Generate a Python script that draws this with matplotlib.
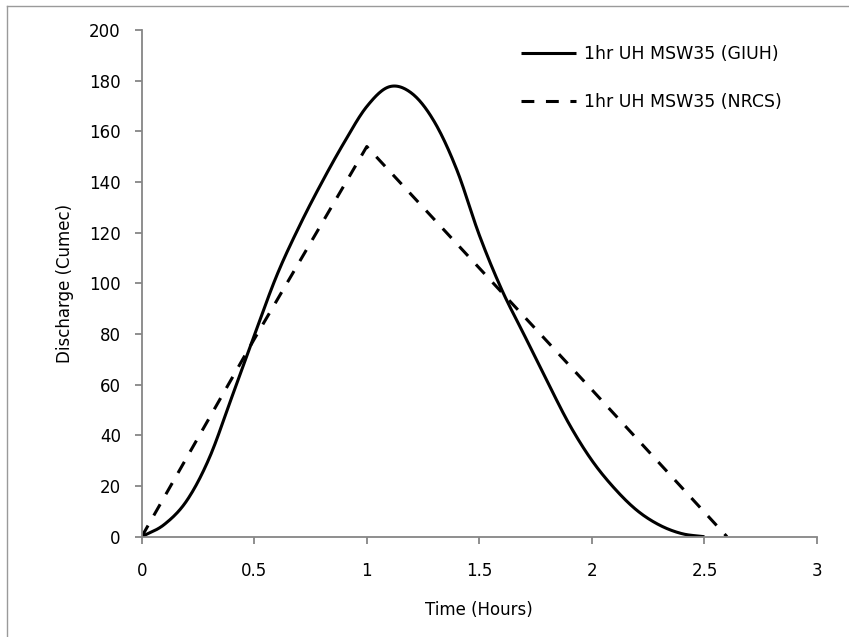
import matplotlib
matplotlib.use("Agg")
import matplotlib.pyplot as plt
from matplotlib.lines import Line2D
import numpy as np

# GIUH unit hydrograph
giuh_t = [0, 0.1, 0.2, 0.3, 0.4, 0.5, 0.6, 0.7, 0.8, 0.9, 1.0, 1.1, 1.2, 1.3,
          1.4, 1.5, 1.6, 1.7, 1.8, 1.9, 2.0, 2.1, 2.2, 2.3, 2.4, 2.5]
giuh_q = [0, 4.8, 14.2, 31.0, 55.0, 79.4, 103.1, 122.5, 139.8, 155.7, 169.8, 177.6,
          175.0, 163.8, 144.8, 119.0, 97.4, 79.5, 61.6, 44.3, 30.1, 19.1, 10.4, 4.6, 1.2, 0]

# NRCS triangular unit hydrograph
nrcs_t = [0, 0.5, 1.0, 1.5, 2.0, 2.6]
nrcs_q = [0, 78, 154, 106, 58, 0]

labels = ["1hr UH MSW35 (GIUH)", "1hr UH MSW35 (NRCS)"]
x_ticks = [0, 0.5, 1, 1.5, 2, 2.5, 3]
y_ticks = [0, 20, 40, 60, 80, 100, 120, 140, 160, 180, 200]


def smooth_line(x, y, n=25):
    """Cubic Hermite curve through the data points (smoothed line)."""
    x = np.asarray(x, float)
    y = np.asarray(y, float)
    m = np.empty_like(y)
    m[1:-1] = (y[2:] - y[:-2]) / (x[2:] - x[:-2])
    m[0] = (y[1] - y[0]) / (x[1] - x[0])
    m[-1] = (y[-1] - y[-2]) / (x[-1] - x[-2])
    xs, ys = [x[0]], [y[0]]
    for i in range(len(x) - 1):
        h = x[i + 1] - x[i]
        s = np.linspace(0, 1, n)[1:]
        h00 = 2 * s**3 - 3 * s**2 + 1
        h10 = s**3 - 2 * s**2 + s
        h01 = -2 * s**3 + 3 * s**2
        h11 = s**3 - s**2
        xs.extend(x[i] + s * h)
        ys.extend(h00 * y[i] + h10 * h * m[i] + h01 * y[i + 1] + h11 * h * m[i + 1])
    return np.array(xs), np.array(ys)


plt.rcParams['font.family'] = ['DejaVu Sans']

fig = plt.figure(figsize=(8.49, 6.37), dpi=100)
W, H = 849, 637
ax = fig.add_axes([141.7 / W, 1 - 536.7 / H, (817 - 141.7) / W, (536.7 - 30) / H])

gx, gy = smooth_line(giuh_t, giuh_q)
ax.plot(gx, gy, color='black', lw=2.2, solid_capstyle='butt', label=labels[0])
ax.plot(nrcs_t, nrcs_q, color='black', lw=2.2, dashes=(4.2, 3.8), dash_capstyle='butt',
        label=labels[1])

ax.set_xlim(0, 3)
ax.set_ylim(0, 200)
ax.set_xticks(x_ticks)
ax.set_xticklabels([str(v) for v in x_ticks])
ax.set_yticks(y_ticks)

gray = '#868686'
for s in ['top', 'right']:
    ax.spines[s].set_visible(False)
for s in ['left', 'bottom']:
    ax.spines[s].set_color(gray)
    ax.spines[s].set_linewidth(1.3)
ax.tick_params(axis='both', direction='out', length=5, width=1.3, color=gray,
               labelsize=12, labelcolor='black')
ax.tick_params(axis='x', pad=13)
ax.tick_params(axis='y', pad=10)

ax.set_xlabel("Time (Hours)", fontsize=12, labelpad=15)
ax.set_ylabel("Discharge (Cumec)", fontsize=12, labelpad=11)

leg = ax.legend(loc='upper left',
                bbox_to_anchor=((520.7 - 141.7) / (817 - 141.7), 1 - (45 - 30) / (536.7 - 30)),
                frameon=False, fontsize=12.5, handlelength=3.2, handletextpad=0.42,
                labelspacing=1.75, borderpad=0, borderaxespad=0)

# outer chart border (left and top visible)
fig.add_artist(Line2D([7 / W, 7 / W], [0, 1 - 6 / H], color='#9a9a9a', lw=1.0,
                      transform=fig.transFigure))
fig.add_artist(Line2D([7 / W, 1], [1 - 6 / H, 1 - 6 / H], color='#9a9a9a', lw=1.0,
                      transform=fig.transFigure))

fig.savefig("out.png", dpi=100, facecolor='white')
